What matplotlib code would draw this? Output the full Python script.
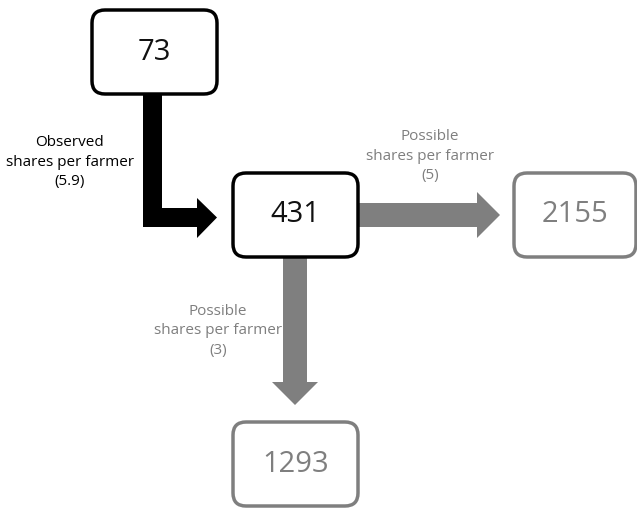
import matplotlib.pyplot as plt
from matplotlib.patches import FancyBboxPatch, Polygon

# DATA
farmers = [73, 431, 2155, 1293]
shares = [5.9, 5, 3]
share_kind = ["Observed", "Possible", "Possible"]

BLACK = "black"
GRAY = "#7f7f7f"
W, H = 637, 509

plt.rcParams["font.family"] = ["Open Sans", "DejaVu Sans"]


def box(ax, x0, y0, x1, y1, value, color):
    ax.add_patch(FancyBboxPatch((x0, y0), x1 - x0, y1 - y0,
                                boxstyle="round,pad=0,rounding_size=13",
                                fc="white", ec=color, lw=2.5, zorder=3))
    ax.text((x0 + x1) / 2, (y0 + y1) / 2, str(value), ha="center", va="center",
            fontsize=21, color="#111111" if color == BLACK else color, zorder=4)


def label(ax, x, y, kind, val, color):
    ax.text(x, y, f"{kind}\nshares per farmer\n({val})", ha="center", va="center",
            fontsize=11, color=color, linespacing=1.4, zorder=4)


def main():
    fig = plt.figure(figsize=(W / 100, H / 100), dpi=100, facecolor="white")
    ax = fig.add_axes([0, 0, 1, 1])
    ax.set_xlim(0, W)
    ax.set_ylim(H, 0)
    ax.axis("off")

    # boxes
    box(ax, 92, 10, 217, 94, farmers[0], BLACK)
    box(ax, 233, 173, 358, 257, farmers[1], BLACK)
    box(ax, 514, 173, 636, 257, farmers[2], GRAY)
    box(ax, 233, 422, 358, 506, farmers[3], GRAY)

    # black bent arrow from 73 to 431
    sx0, sx1 = 143, 162
    hy0, hy1 = 208, 227
    hx, tip = 197, 217
    ax.add_patch(Polygon([(sx0, 94), (sx1, 94), (sx1, hy0), (hx, hy0), (hx, 198),
                          (tip, (hy0 + hy1) / 2), (hx, 238), (hx, hy1), (sx0, hy1)],
                         closed=True, fc=BLACK, ec="none", zorder=2))

    # gray arrow right
    cy = 215
    ax.add_patch(Polygon([(358, 203), (477, 203), (477, 192), (500, cy), (477, 238),
                          (477, 227), (358, 227)], closed=True, fc=GRAY, ec="none", zorder=2))

    # gray arrow down
    cx = 295
    ax.add_patch(Polygon([(283, 257), (307, 257), (307, 382), (318, 382), (cx, 405),
                          (272, 382), (283, 382)], closed=True, fc=GRAY, ec="none", zorder=2))

    label(ax, 70, 162, share_kind[0], shares[0], BLACK)
    label(ax, 430, 156, share_kind[1], shares[1], GRAY)
    label(ax, 218, 331, share_kind[2], shares[2], GRAY)

    fig.savefig("out.png", dpi=100, facecolor="white")


if __name__ == "__main__":
    main()
